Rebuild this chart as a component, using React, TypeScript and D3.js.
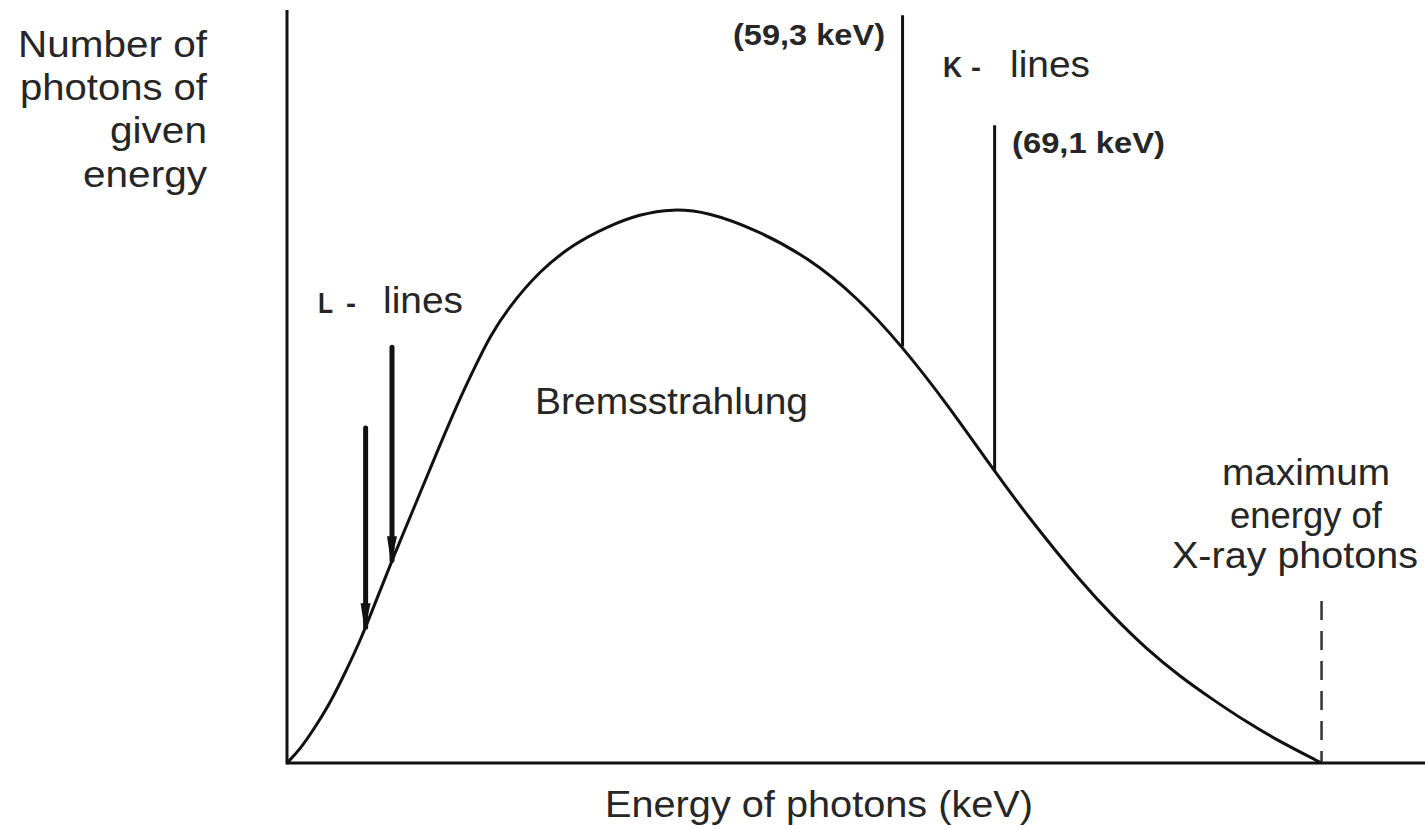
import React, { useEffect, useRef } from 'react'
import * as d3 from 'd3'

// Bremsstrahlung continuum (energy in keV, relative photon count)
const energy = [0, 1.3, 2.5, 4.2, 5.8, 7.1, 8.6, 10.2, 12.4, 14.5, 16.5, 18.2, 19.6, 21.3, 24.5, 27.7, 30.9, 34.1, 37.3, 40.6, 45.4, 50.3, 55.1, 59.5, 63.9, 68.3, 71.8, 76.7, 79.9, 83.1, 86.3, 89.5, 92.8, 96.0, 100]
const counts = [0, 1.9, 4.3, 8.0, 12.5, 16.3, 21.5, 27.1, 34.3, 41.3, 47.8, 52.7, 56.6, 60.3, 65.5, 68.9, 71.2, 72.9, 73.6, 73.2, 70.8, 67.2, 61.9, 55.3, 47.5, 38.9, 32.4, 24.1, 19.4, 15.1, 11.5, 8.4, 5.4, 2.8, 0]

// characteristic lines
const peakSeries = ['L', 'L', 'K', 'K']
const peakEnergy = [7.6, 10.15, 59.5, 68.4]
const peakHeight = [44.5, 55.2, 99.3, 84.7]

const maxEnergy = 100

const W = 1425
const H = 829

const App = () => {
  const ref = useRef<SVGSVGElement>(null)

  useEffect(() => {
    const svg = d3.select(ref.current)
    svg.selectAll('*').remove()

    const x = d3.scaleLinear().domain([0, 110]).range([287, 1425])
    const y = d3.scaleLinear().domain([0, 100]).range([763, 10])
    // piecewise lookup of the continuum height at a given energy
    const curveAt = d3.scaleLinear().domain(energy).range(counts)

    const ink = '#111'
    const textInk = '#262626'
    const font = '"Liberation Sans", Arial, sans-serif'

    // axes, no ticks
    svg.append('line')
      .attr('x1', x(0)).attr('x2', x(0))
      .attr('y1', y(0) + 1.5).attr('y2', y(100))
      .attr('stroke', ink).attr('stroke-width', 3)
    svg.append('line')
      .attr('x1', x(0)).attr('x2', x(110))
      .attr('y1', y(0)).attr('y2', y(0))
      .attr('stroke', ink).attr('stroke-width', 3)

    // max energy marker
    svg.append('line')
      .attr('x1', x(maxEnergy)).attr('x2', x(maxEnergy))
      .attr('y1', y(21.5)).attr('y2', y(0))
      .attr('stroke', '#333').attr('stroke-width', 2.5)
      .attr('stroke-dasharray', '19 11')

    // continuum
    const line = d3.line<number>()
      .x((d, i) => x(energy[i]))
      .y((d) => y(d))
      .curve(d3.curveBasis)
    svg.append('path')
      .datum(counts)
      .attr('d', line)
      .attr('fill', 'none')
      .attr('stroke', ink)
      .attr('stroke-width', 3)

    // characteristic lines
    peakEnergy.forEach((e, i) => {
      const px = x(e)
      const top = y(peakHeight[i])
      const bottom = y(curveAt(e))
      const isL = peakSeries[i] === 'L'
      svg.append('line')
        .attr('x1', px).attr('x2', px)
        .attr('y1', top).attr('y2', bottom)
        .attr('stroke', ink)
        .attr('stroke-width', isL ? 5 : 3)
        .attr('stroke-linecap', isL ? 'round' : 'butt')
      if (isL) {
        // small wedge where the L-line meets the curve
        svg.append('path')
          .attr('d', `M${px - 5},${bottom - 24} L${px + 5},${bottom - 24} L${px - 1},${bottom + 3} Z`)
          .attr('fill', ink)
      }
    })

    const label = (t: string, px: number, py: number, size: number, len: number,
                   anchor = 'start', weight = 'normal') => {
      svg.append('text')
        .attr('x', px).attr('y', py)
        .attr('font-family', font)
        .attr('font-size', size)
        .attr('font-weight', weight)
        .attr('text-anchor', anchor)
        .attr('fill', textInk)
        .attr('textLength', len)
        .attr('lengthAdjust', 'spacingAndGlyphs')
        .text(t)
    }

    // y label
    label('Number of', 207, 57, 37, 189, 'end')
    label('photons of', 207, 100, 37, 187, 'end')
    label('given', 207, 143, 37, 97, 'end')
    label('energy', 207, 187, 37, 124, 'end')

    // x label
    label('Energy of photons (keV)', 605, 817, 37, 428)

    label('Bremsstrahlung', 535, 414, 37, 273)

    // K lines
    label('(59,3 keV)', 885, 45, 30, 152, 'end', 'bold')
    label('(69,1 keV)', 1012, 153, 30, 153, 'start', 'bold')
    label('K', 943, 77, 29, 19, 'start', 'bold')
    label('-', 971, 77, 28, 10, 'start', 'bold')
    label('lines', 1010, 77, 37, 80)

    // L lines
    label('L', 318, 313, 29, 15, 'start', 'bold')
    label('-', 346, 313, 28, 10, 'start', 'bold')
    label('lines', 383, 313, 37, 80)

    // max energy
    label('maximum', 1306, 485, 37, 168, 'middle')
    label('energy of', 1306, 528, 37, 152, 'middle')
    label('X-ray photons', 1295, 568, 37, 246, 'middle')
  }, [])

  return (
    <div style={{ position: 'absolute', top: 0, left: 0, background: '#fff' }}>
      <svg ref={ref} width={W} height={H}></svg>
    </div>
  )
}

export default App
